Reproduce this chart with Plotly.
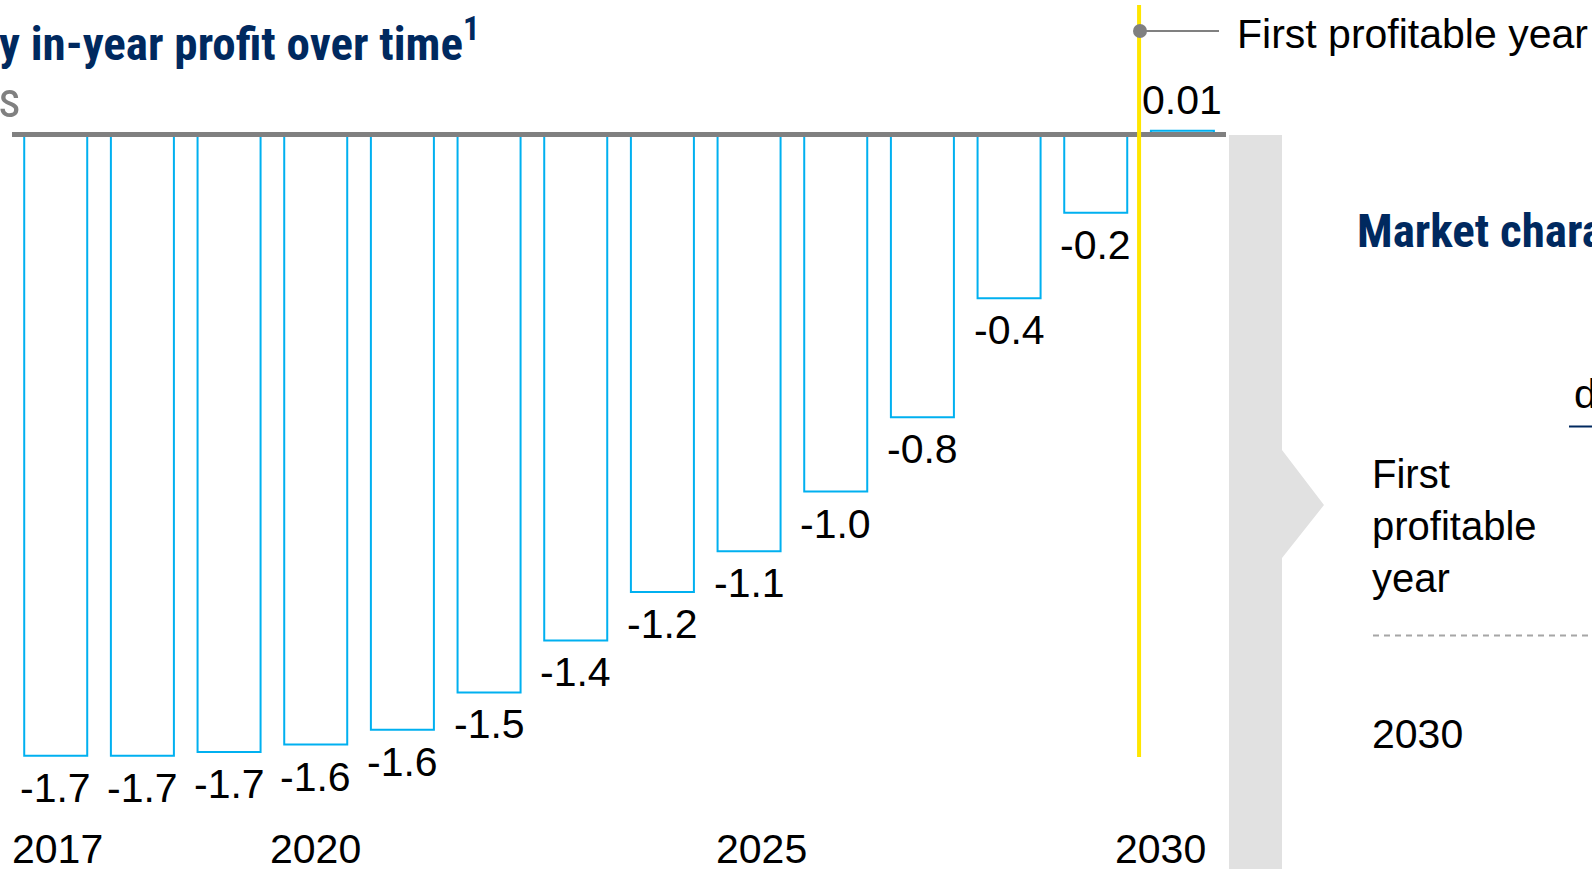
import plotly.graph_objects as go

# Industry in-year profit by year, $ billions
years = [2017, 2018, 2019, 2020, 2021, 2022, 2023, 2024, 2025, 2026, 2027, 2028, 2029, 2030]
profit = [-1.67, -1.67, -1.66, -1.64, -1.60, -1.50, -1.36, -1.23, -1.12, -0.96, -0.76, -0.44, -0.21, 0.01]
tick_years = [2017, 2020, 2025, 2030]
tick_shift = [2, 0, 12, -22]

W, H = 1592, 869
NAVY = "#00295F"
BLUE = "#00B0F0"
GREY = "#808080"
PANEL = "#E1E1E1"
YELLOW = "#FFE600"
REG = "Liberation Sans, Arial, sans-serif"
COND = "Roboto Condensed, Liberation Sans, Arial, sans-serif"


def px(x):
    return x / W


def py(y):
    return 1 - y / H


def fmt(v):
    return f"{v:.2f}" if abs(v) < 0.05 else f"{v:.1f}"


labels = [fmt(v) for v in profit]

fig = go.Figure()
fig.add_trace(go.Bar(
    x=years, y=profit, width=0.727,
    marker=dict(color="white", line=dict(color=BLUE, width=2)),
    hoverinfo="skip",
))

shapes = []
# zero baseline
shapes.append(dict(type="line", xref="paper", yref="y", x0=px(12), x1=px(1226), y0=0, y1=0,
                   line=dict(color=GREY, width=5), layer="above"))
# marker for the first profitable year
shapes.append(dict(type="line", xref="x", yref="paper", x0=2029.5, x1=2029.5, y0=py(757), y1=py(5),
                   line=dict(color=YELLOW, width=4), layer="above"))
shapes.append(dict(type="line", xref="paper", yref="paper", x0=px(1140), x1=px(1219), y0=py(31), y1=py(31),
                   line=dict(color=GREY, width=2), layer="above"))
shapes.append(dict(type="circle", xref="paper", yref="paper", x0=px(1133), x1=px(1147), y0=py(38), y1=py(24),
                   fillcolor=GREY, line=dict(width=0), layer="above"))
# side panel with chevron
panel = [(1229, 135), (1282, 135), (1282, 450), (1324, 505), (1282, 558), (1282, 869), (1229, 869)]
path = "M " + " L ".join(f"{px(a):.5f},{py(b):.5f}" for a, b in panel) + " Z"
shapes.append(dict(type="path", xref="paper", yref="paper", path=path, fillcolor=PANEL,
                   line=dict(width=0), layer="below"))
# table rules on the right
shapes.append(dict(type="line", xref="paper", yref="paper", x0=px(1569), x1=1, y0=py(426.5), y1=py(426.5),
                   line=dict(color=NAVY, width=2)))
shapes.append(dict(type="line", xref="paper", yref="paper", x0=px(1373), x1=1, y0=py(635.5), y1=py(635.5),
                   line=dict(color="#A6A6A6", width=2, dash="6px,5px")))

ann = []
# value labels just beyond the end of each bar
for yr, v, lab in zip(years, profit, labels):
    ann.append(dict(text=lab, x=yr, xref="x", y=v, yref="y", yshift=31 if v > 0 else -32,
                    xanchor="center", yanchor="middle", font=dict(family=REG, size=41, color="black")))
ann.append(dict(text="y in-year profit over time<sup>1</sup>", x=px(-3), y=py(40), xanchor="left", yanchor="middle",
                font=dict(family=COND, size=47, color=NAVY, weight="bold")))
ann.append(dict(text="s", x=px(23), y=py(100), xanchor="right", yanchor="middle",
                font=dict(family=COND, size=50, color=GREY)))
ann.append(dict(text="First profitable year", x=px(1235), y=py(34), xanchor="left", yanchor="middle",
                font=dict(family=REG, size=41, color="black")))
ann.append(dict(text="Market characteristics", x=px(1355), y=py(230), xanchor="left", yanchor="middle",
                font=dict(family=COND, size=47, color=NAVY, weight="bold")))
ann.append(dict(text="d", x=px(1572), y=py(394), xanchor="left", yanchor="middle",
                font=dict(family=REG, size=41, color="black")))
ann.append(dict(text="First<br>profitable<br>year", x=px(1370), y=py(526), xanchor="left", yanchor="middle",
                align="left", font=dict(family=REG, size=40, color="black")))
ann.append(dict(text="2030", x=px(1370), y=py(734), xanchor="left", yanchor="middle",
                font=dict(family=REG, size=41, color="black")))
for yr, sh in zip(tick_years, tick_shift):
    ann.append(dict(text=str(yr), x=yr, xref="x", y=py(849), yref="paper", xshift=sh,
                    xanchor="center", yanchor="middle", font=dict(family=REG, size=41, color="black")))
for a in ann:
    a.setdefault("xref", "paper")
    a.setdefault("yref", "paper")
    a["showarrow"] = False

fig.update_layout(
    width=W, height=H, margin=dict(l=0, r=0, t=0, b=0),
    paper_bgcolor="white", plot_bgcolor="white",
    xaxis=dict(range=[2016.357, 2034.726], visible=False, fixedrange=True),
    yaxis=dict(range=[-1.9745, 0.3616], visible=False, fixedrange=True),
    showlegend=False, shapes=shapes, annotations=ann,
)

fig.write_html("out.html")
